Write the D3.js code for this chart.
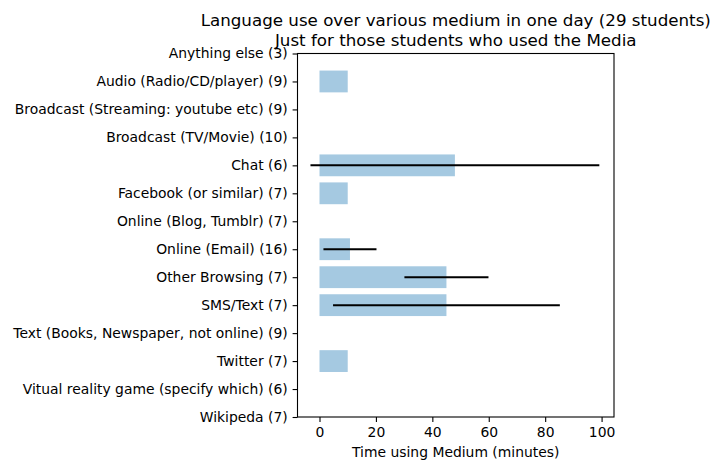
<!DOCTYPE html>
<html>
<head>
<meta charset="utf-8">
<script src="https://cdn.jsdelivr.net/npm/d3@7"></script>
<style>
  body { margin: 0; background: #fff; }
  text { font-family: "DejaVu Sans", sans-serif; fill: #000; }
</style>
</head>
<body>
<div id="viz"></div>
<script>
// categories (with number of students in brackets)
var categories = [
    "Anything else (3)",
    "Audio (Radio/CD/player) (9)",
    "Broadcast (Streaming: youtube etc) (9)",
    "Broadcast (TV/Movie) (10)",
    "Chat (6)",
    "Facebook (or similar) (7)",
    "Online (Blog, Tumblr) (7)",
    "Online (Email) (16)",
    "Other Browsing (7)",
    "SMS/Text (7)",
    "Text (Books, Newspaper, not online) (9)",
    "Twitter (7)",
    "Vitual reality game (specify which) (6)",
    "Wikipeda (7)"
];

// mean minutes
var minutes = [0, 10, 0, 0, 48, 10, 0, 10.8, 45, 45, 0, 10, 0, 0];

// error (std) - 0 means no bar drawn
var errors = [0, 0, 0, 0, 51.2, 0, 0, 9.4, 14.9, 40.2, 0, 0, 0, 0];

var xTicks = [0, 20, 40, 60, 80, 100];

var titleLines = [
    "Language use over various medium in one day (29 students)",
    "Just for those students who used the Media"
];
var xLabel = "Time using Medium (minutes)";

var width = 719, height = 470;
// plot box (window.top is reserved, so prefixed names)
var plotL = 297.5, plotR = 614, plotT = 53.5, plotB = 417;

var svg = d3.select("#viz").append("svg")
    .attr("width", width)
    .attr("height", height);

var x = d3.scaleLinear()
    .domain([-7.8, 104.4])
    .range([plotL, plotR]);

var y = d3.scalePoint()
    .domain(categories)
    .range([plotT, plotB]);

var barH = y.step() * 0.78;

var rows = categories.map(function(c, i) {
    return {name: c, value: minutes[i], err: errors[i]};
});

drawBars();
drawErrors();
drawAxes();
drawTitle();

function drawBars() {
    svg.selectAll("rect.bar")
        .data(rows.filter(function(d) { return d.value > 0; }))
        .enter()
        .append("rect")
        .attr("class", "bar")
        .attr("x", x(0))
        .attr("y", function(d) { return y(d.name) - barH / 2; })
        .attr("width", function(d) { return x(d.value) - x(0); })
        .attr("height", barH)
        .style("fill", "#a5c9e1");
}

function drawErrors() {
    svg.selectAll("line.err")
        .data(rows.filter(function(d) { return d.err > 0; }))
        .enter()
        .append("line")
        .attr("class", "err")
        .attr("x1", function(d) { return x(d.value - d.err); })
        .attr("x2", function(d) { return x(d.value + d.err); })
        .attr("y1", function(d) { return y(d.name); })
        .attr("y2", function(d) { return y(d.name); })
        .style("stroke", "#000")
        .style("stroke-width", 2);
}

function drawAxes() {
    var xAxis = d3.axisBottom(x)
        .tickValues(xTicks)
        .tickSize(4.9)
        .tickPadding(4.9);

    var gx = svg.append("g")
        .attr("transform", "translate(0," + plotB + ")")
        .call(xAxis);

    var yAxis = d3.axisLeft(y)
        .tickSize(4.9)
        .tickPadding(4.9);

    var gy = svg.append("g")
        .attr("transform", "translate(" + plotL + ",0)")
        .call(yAxis);

    [gx, gy].forEach(function(g) {
        g.select(".domain").remove();
        g.selectAll(".tick line").style("stroke", "#000").style("stroke-width", 1.1);
        g.selectAll(".tick text")
            .style("font-family", "DejaVu Sans")
            .style("font-size", "13.9px")
            .style("fill", "#000");
    });

    // frame
    svg.append("rect")
        .attr("x", plotL)
        .attr("y", plotT)
        .attr("width", plotR - plotL)
        .attr("height", plotB - plotT)
        .style("fill", "none")
        .style("stroke", "#000")
        .style("stroke-width", 1.1);

    svg.append("text")
        .attr("x", (plotL + plotR) / 2)
        .attr("y", 457)
        .attr("text-anchor", "middle")
        .style("font-size", "13.9px")
        .text(xLabel);
}

function drawTitle() {
    svg.selectAll("text.title")
        .data(titleLines)
        .enter()
        .append("text")
        .attr("class", "title")
        .attr("x", (plotL + plotR) / 2)
        .attr("y", function(d, i) { return 26 + i * 19.5; })
        .attr("text-anchor", "middle")
        .style("font-size", "16.7px")
        .text(function(d) { return d; });
}
</script>
</body>
</html>
